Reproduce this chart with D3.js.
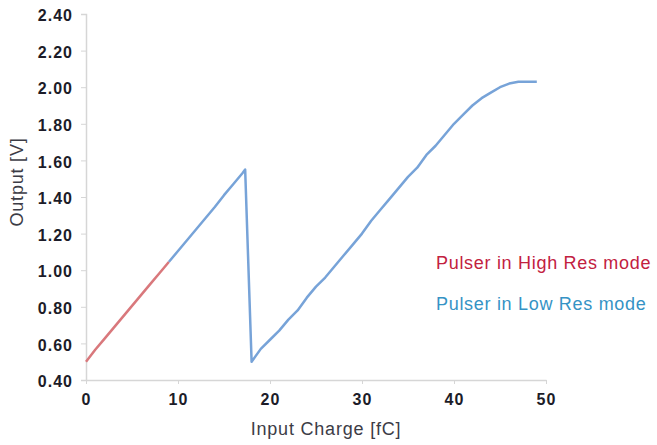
<!DOCTYPE html>
<html lang="en">
<head>
    <meta charset="UTF-8">
    <title>Pulser output vs input charge</title>
    <style>
        body { margin: 0; background: #fff; }
        svg text { font-family: "Liberation Sans", Arial, sans-serif; }
        .tick-label { font-weight: bold; font-size: 16px; fill: #1c1c28; letter-spacing: 1px; }
        .axis-title { font-size: 18px; fill: #3c3c46; letter-spacing: 0.8px; }
        .legend { font-size: 18px; letter-spacing: 0.7px; }
    </style>
    <script src="https://d3js.org/d3.v7.min.js"></script>
</head>
<body>
<div id="chart"></div>
<script>
    var width = 657, height = 445;
    var margin = {left: 86, right: 111, top: 14, bottom: 65};

    // High Res mode points (input charge fC, output V)
    var highResCharge = [0, 1, 2, 3, 4, 5, 6, 7, 8, 9];
    var highResOutput = [0.50, 0.565, 0.625, 0.685, 0.745, 0.805, 0.865, 0.925, 0.985, 1.045];

    // Low Res mode points
    var lowResCharge = [9, 10, 11, 12, 13, 14, 15, 16, 17, 17.3, 18, 19, 20, 21, 22, 23, 24, 25, 26, 27, 28, 29,
        30, 31, 32, 33, 34, 35, 36, 37, 38, 39, 40, 41, 42, 43, 44, 45, 46, 47, 48, 49];
    var lowResOutput = [1.045, 1.105, 1.165, 1.225, 1.285, 1.345, 1.41, 1.47, 1.53, 1.55, 0.50, 0.57, 0.62, 0.67,
        0.73, 0.78, 0.85, 0.91, 0.96, 1.02, 1.08, 1.14, 1.20, 1.27, 1.33, 1.39, 1.45, 1.51, 1.56, 1.63, 1.68,
        1.74, 1.80, 1.85, 1.90, 1.94, 1.97, 2.00, 2.02, 2.03, 2.03, 2.03];

    var xTicks = [0, 10, 20, 30, 40, 50];
    var yTicks = [0.4, 0.6, 0.8, 1.0, 1.2, 1.4, 1.6, 1.8, 2.0, 2.2, 2.4];

    var legendLabels = ["Pulser in High Res mode", "Pulser in Low Res mode"];
    var legendColors = ["#c2213f", "#3593c5"];
    var lineColors = ["#d9787c", "#77a3d8"];

    var svg = d3.select("#chart").append("svg")
        .attr("width", width)
        .attr("height", height);

    var x = d3.scaleLinear().domain([0, 50]).range([margin.left, width - margin.right]);
    var y = d3.scaleLinear().domain([0.4, 2.4]).range([height - margin.bottom, margin.top]);

    // y axis
    var yAxis = svg.append("g")
        .attr("transform", "translate(" + margin.left + ",0)")
        .call(d3.axisLeft(y).tickValues(yTicks).tickSize(5).tickPadding(8).tickFormat(d3.format(".2f")));
    yAxis.attr("font-family", null);
    yAxis.select(".domain").attr("stroke", "#d6d6d6").attr("stroke-width", 1.5);
    yAxis.selectAll(".tick line").attr("stroke", "#d6d6d6");
    yAxis.selectAll(".tick text").attr("class", "tick-label").attr("dy", "0.42em");

    // x axis
    var xAxis = svg.append("g")
        .attr("transform", "translate(0," + (height - margin.bottom) + ")")
        .call(d3.axisBottom(x).tickValues(xTicks).tickSize(4).tickPadding(12).tickSizeOuter(0).tickFormat(d3.format("d")));
    xAxis.attr("font-family", null);
    xAxis.select(".domain").attr("stroke", "#d6d6d6").attr("stroke-width", 1.5);
    xAxis.selectAll(".tick line").attr("stroke", "#d6d6d6");
    xAxis.selectAll(".tick text").attr("class", "tick-label").attr("dy", "0.55em");

    // axis titles
    svg.append("text")
        .attr("class", "axis-title")
        .attr("x", 326)
        .attr("y", 435)
        .style("text-anchor", "middle")
        .text("Input Charge [fC]");

    svg.append("text")
        .attr("class", "axis-title")
        .attr("transform", "translate(23,182) rotate(-90)")
        .style("text-anchor", "middle")
        .text("Output [V]");

    var line = d3.line()
        .x(function(d){ return x(d[0]); })
        .y(function(d){ return y(d[1]); });

    var lowRes = d3.zip(lowResCharge, lowResOutput);
    var highRes = d3.zip(highResCharge, highResOutput);

    svg.append("path")
        .datum(lowRes)
        .attr("d", line)
        .attr("fill", "none")
        .attr("stroke", lineColors[1])
        .attr("stroke-width", 2.5)
        .attr("stroke-linejoin", "round");

    svg.append("path")
        .datum(highRes)
        .attr("d", line)
        .attr("fill", "none")
        .attr("stroke", lineColors[0])
        .attr("stroke-width", 2.5)
        .attr("stroke-linejoin", "round");

    // legend text
    svg.selectAll(".legend")
        .data(legendLabels)
        .enter()
        .append("text")
        .attr("class", "legend")
        .attr("x", 436)
        .attr("y", function(d, i){ return 269 + i * 41; })
        .attr("fill", function(d, i){ return legendColors[i]; })
        .text(function(d){ return d; });
</script>
</body>
</html>
